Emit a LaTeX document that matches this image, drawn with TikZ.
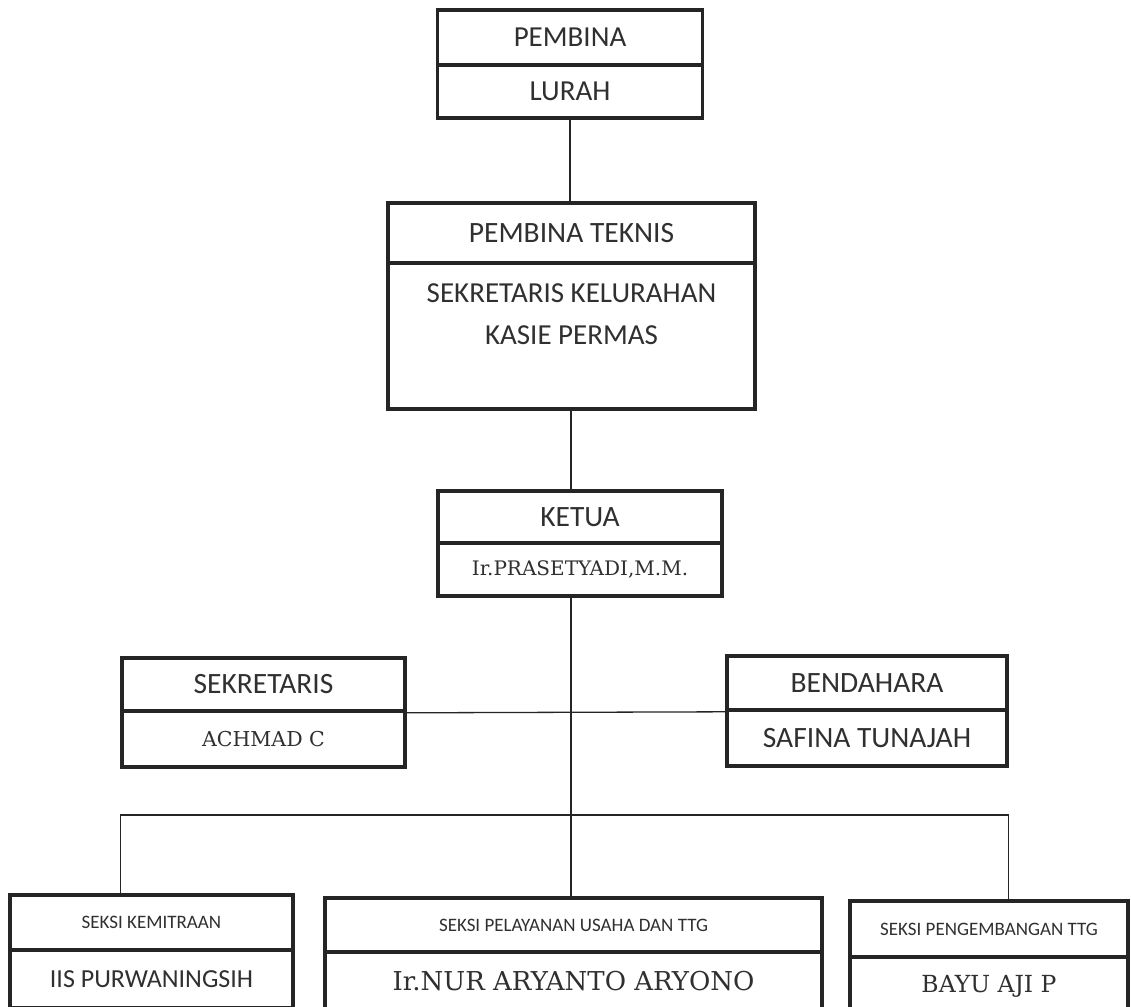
\documentclass[tikz,border=0pt]{standalone}
\usepackage{fontspec}
\setmainfont{Carlito}
\newfontfamily\namefont{DejaVu Serif}
\usepackage{tikz}
\usetikzlibrary{shapes,arrows}

\definecolor{boxgray}{HTML}{252525}
\definecolor{textgray}{HTML}{303030}

\begin{document}
\begin{tikzpicture}[x=1pt, y=-1pt,
  cell/.style={draw=boxgray, line width=3.6pt, rectangle, inner sep=0pt, text=textgray},
  link/.style={draw=boxgray, line width=1.3pt},
  huge/.style={font=\fontsize{29}{34}\selectfont},
  big/.style={font=\fontsize{29.5}{35}\selectfont},
  small/.style={font=\fontsize{19}{22}\selectfont},
  nama/.style={font=\namefont\fontsize{#1}{#1}\selectfont}]

\clip (0,0) rectangle (1131,1006);
\fill [white] (0,0) rectangle (1131,1006);

% pembina
\node[cell, huge, minimum width=265pt, minimum height=55pt] (pembina) at (570,37.5) {PEMBINA};
\node[cell, huge, minimum width=265pt, minimum height=53pt] (lurah) at (570,91.5) {LURAH};

% pembina teknis
\node[cell, big, minimum width=367pt, minimum height=60pt] (teknis) at (571.5,233) {PEMBINA TEKNIS};
\node[cell, minimum width=367pt, minimum height=146pt] (sekkel) at (571.5,336) {};
\node[text=textgray, align=center, font=\fontsize{29}{42}\selectfont] (sekkeltext) at (571.5,314) {SEKRETARIS KELURAHAN\\KASIE PERMAS};

% ketua
\node[cell, big, minimum width=284pt, minimum height=52pt] (ketua) at (580,517) {KETUA};
\node[cell, nama=20, minimum width=284pt, minimum height=53pt] (ketuanama) at (580,569.5) {Ir.PRASETYADI,M.M.};

% sekretaris dan bendahara
\node[cell, big, minimum width=283pt, minimum height=53pt] (sekre) at (263.5,684.5) {SEKRETARIS};
\node[cell, nama=20.5, minimum width=283pt, minimum height=56pt] (sekrenama) at (263.5,739) {ACHMAD C};
\node[cell, big, minimum width=280pt, minimum height=54pt] (bendahara) at (867,683) {BENDAHARA};
\node[cell, big, minimum width=280pt, minimum height=56pt] (bendaharanama) at (867,738) {SAFINA TUNAJAH};

% seksi
\node[cell, small, minimum width=283pt, minimum height=55pt] (kemitraan) at (151.5,922.5) {SEKSI KEMITRAAN};
\node[cell, font=\fontsize{26}{30}\selectfont, minimum width=283pt, minimum height=58pt] (kemitraannama) at (151.5,979) {IIS PURWANINGSIH};
\node[cell, small, minimum width=497pt, minimum height=54pt] (pelayanan) at (573.5,925) {SEKSI PELAYANAN USAHA DAN TTG};
\node[cell, nama=26, minimum width=497pt, minimum height=58pt] (pelayanannama) at (573.5,981) {Ir.NUR ARYANTO ARYONO};
\node[cell, small, minimum width=278pt, minimum height=56pt] (pengembangan) at (989,929) {SEKSI PENGEMBANGAN TTG};
\node[cell, nama=23.5, minimum width=278pt, minimum height=58pt] (pengembangannama) at (989,986) {BAYU AJI P};

% garis
\coordinate (cabang) at (571,815);
\draw[link] (lurah.south) -- (lurah.south |- teknis.north);
\draw[link] (cabang |- sekkel.south) -- (cabang |- ketua.north);
\draw[link] (cabang |- ketuanama.south) -- (cabang |- pelayanan.north);
\draw[link] (sekre.south east) -- (bendahara.south west);
\draw[link] (sekre.west |- kemitraan.north) -- (sekre.west |- cabang) -- (bendahara.east |- cabang) -- (bendahara.east |- pengembangan.north);

\end{tikzpicture}
\end{document}
